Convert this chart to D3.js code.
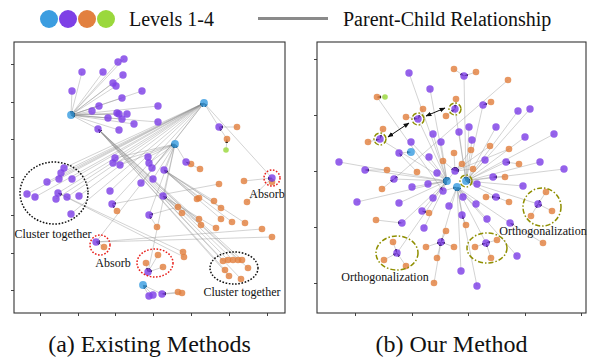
<!DOCTYPE html>
<html><head><meta charset="utf-8">
<script src="https://cdn.jsdelivr.net/npm/d3@7"></script>
<style>body{margin:0;background:#fff}svg{display:block;font-family:"Liberation Serif","Times New Roman",serif}</style>
</head><body><svg id="c" width="591" height="360"></svg>
<script>
// ---------- styling keys ----------
const levelColors = ["#3b9de0", "#7e40e6", "#e2803f", "#9ad83c"];
const levelRadius = [3.9, 3.7, 3.3, 2.8];
const legendLabels = ["Levels 1-4", "Parent-Child Relationship"];
const captions = ["(a) Existing Methods", "(b) Our Method"];

// ---------- axis ticks (embedding units) ----------
const leftXTicks = [26, 64, 101, 139, 177, 215, 253];
const leftYTicks = [23, 60, 98, 136, 174, 211, 249];
const rightXTicks = [38, 95, 151, 208, 264];
const rightYTicks = [30, 86, 142, 198, 254];

// ---------- (a) Existing Methods: nodes [x, y, parentIndex in previous level] ----------
const leftL1 = [[57,198],[190,210],[161,169],[129,28]];
const leftL2 = [
 [68,241,0],[89,241,0],[104,251,0],[110,254,0],[109,238,0],[99,230,0],[102,227,0],[58,222,0],
 [128,222,0],[108,215,0],[85,207,0],[78,202,0],[144,207,0],[103,200,0],[105,199,0],[113,199,0],
 [94,195,0],[108,194,0],[120,189,0],[144,191,0],[105,183,0],[84,184,0],
 [50,145,1],[47,140,1],[45,134,1],[58,134,1],[33,131,1],[13,119,1],[21,116,1],[44,120,1],
 [42,114,1],[53,116,1],[65,117,1],[57,99,1],[96,122,1],[98,109,1],[82,71,1],[127,130,1],
 [205,186,1],[258,135,1],
 [99,150,2],[101,155,2],[106,148,2],[134,156,2],[135,150,2],[138,145,2],[139,134,2],[150,143,2],
 [149,117,2],[172,151,2],[135,98,2],[134,41,2],
 [135,17,3],[139,18,3],[148,19,3]
];
const leftL3 = [
 [209,52,21],[214,53,21],[219,53,21],[224,53,21],[228,53,21],[211,43,21],[234,45,21],[215,37,21],[227,34,21],
 [177,149,49],[186,144,49],[223,186,38],[213,174,38],
 [230,132,39],[258,131,39],[233,111,39],
 [103,102,35],[205,129,35],
 [90,66,36],[248,84,36],[258,76,36],
 [169,61,29],[170,56,29],
 [143,86,50],[164,106,50],
 [168,100,48],[185,94,48],[187,88,48],[202,85,48],
 [183,114,47],[185,115,47],[200,112,47],[207,105,47],[207,94,47],[218,91,47],[231,90,47],
 [144,58,51],[132,50,51],[149,46,51],
 [164,21,54],[168,20,54]
];
const leftL4 = [[212,163,12]];

// ---------- (b) Our Method ----------
const rightL1 = [[130,132],[140,126],[149,132],[94,161]];
const rightL2 = [
 [92,240,0],[113,224,0],[101,194,0],[63,174,0],[116,179,0],[94,171,0],[124,171,0],[112,156,0],
 [22,151,0],[48,143,0],[120,140,0],[77,134,0],[138,142,0],[95,126,0],[111,129,0],[40,111,0],
 [82,110,0],[116,115,0],[105,102,0],[85,90,0],[107,85,0],[80,60,0],
 [126,122,1],[132,107,1],[145,98,1],[124,71,1],[144,42,1],[160,27,1],[169,70,1],[200,57,1],
 [159,109,1],[146,116,1],[170,94,1],[193,90,1],
 [147,237,2],[138,204,2],[166,208,2],[201,202,2],[213,204,2],[152,186,2],[179,186,2],[142,181,2],
 [208,176,2],[237,179,2],[155,173,2],[168,153,2],[189,151,2],[223,151,2],[247,144,2],[176,136,2],
 [160,129,2],[221,109,2],[179,116,2],[206,127,2],
 [82,160,3]
];
const rightL3 = [
 [137,244,34],[159,241,34],[191,233,11],[60,216,22],[139,214,35],[129,197,35],[106,204,2],[89,196,2],
 [66,184,3],[51,171,3],[174,211,36],[137,160,12],[154,163,12],[126,152,12],[145,149,12],[156,144,12],
 [173,167,12],[192,164,12],[202,149,46],[188,136,49],[70,143,9],[100,141,54],[65,124,11],[112,100,18],
 [59,93,19],[149,88,24],[169,116,52],[192,111,52],[214,97,51],[229,121,51],[235,102,51],[226,70,33],
 [129,82,25],[109,66,25],[137,66,25],[120,55,25],[117,30,25],
 [76,71,21],[67,53,21],[89,47,21],
 [158,66,28],[180,73,28],[174,55,28]
];
const rightL4 = [[68,216,3]];

// ---------- annotations ----------
const leftEllipses = [ // [cx, cy, rx, ry, kind]
 [40,120,34,31,"black"],[86,68,10,10,"red"],[141,50,18,14,"red"],[220,45,24,16,"black"],[258,135,8,8,"red"]
];
const leftNotes = [[39,75,"Cluster together"],[99,46,"Absorb"],[253,115,"Absorb"],[228,17,"Cluster together"]];
const rightEllipses = [
 [80,60,21,17,"olive"],[170,65,20,15,"olive"],[225,106,19,19,"olive"],
 [63,174,6,6,"olive"],[101,194,6,6,"olive"],[138,204,6,6,"olive"],[149,132,6,6,"olive"]
];
const rightNotes = [[68,32,"Orthogonalization"],[226,78,"Orthogonalization"]];
const rightArrows = [[71,176,92,190],[109,197,128,205]];

// ---------- drawing ----------
const svg = d3.select("#c");
const defs = svg.append("defs");
defs.append("marker").attr("id","tip").attr("viewBox","0 0 10 10").attr("refX",10).attr("refY",5)
  .attr("markerUnits","userSpaceOnUse").attr("markerWidth",4).attr("markerHeight",4).attr("orient","auto")
  .append("path").attr("d","M0,1.5L10,5L0,8.5z").attr("fill","#111");
defs.append("marker").attr("id","tipA").attr("viewBox","0 0 10 10").attr("refX",9).attr("refY",5)
  .attr("markerUnits","userSpaceOnUse").attr("markerWidth",6).attr("markerHeight",6).attr("orient","auto-start-reverse")
  .append("path").attr("d","M0,1L10,5L0,9z").attr("fill","#111");

const strokeFor = {black:"#111", red:"#e8201c", olive:"#8f8f00"};
const dashFor = {black:"1.6,1.6", red:"1.6,1.6", olive:"5,2,1.5,2"};

function panel(cfg) {
  const x = d3.scaleLinear().domain(cfg.xDomain).range(cfg.xRange);
  const y = d3.scaleLinear().domain(cfg.yDomain).range(cfg.yRange);
  const g = svg.append("g");
  // ticks
  const ax = g.append("g").attr("transform",`translate(0,${cfg.yRange[0]})`)
    .call(d3.axisBottom(x).tickValues(cfg.xTicks).tickSize(3).tickFormat(""));
  const ay = g.append("g").attr("transform",`translate(${cfg.xRange[0]},0)`)
    .call(d3.axisLeft(y).tickValues(cfg.yTicks).tickSize(3).tickFormat(""));
  [ax, ay].forEach(a => { a.select(".domain").remove(); a.selectAll("line").attr("stroke","#444"); });

  const levels = cfg.levels;
  // edges
  const edges = [];
  for (let k = 1; k < levels.length; k++) {
    levels[k].forEach(d => { const p = levels[k-1][d[2]]; edges.push([d[0], d[1], p[0], p[1]]); });
  }
  g.append("g").selectAll("line").data(edges).join("line")
    .attr("x1", d => x(d[0])).attr("y1", d => y(d[1]))
    .attr("x2", d => x(d[2])).attr("y2", d => y(d[3]))
    .attr("stroke","#8c8c8c").attr("stroke-width",0.7).attr("stroke-opacity",0.55)
    .attr("marker-end","url(#tip)");
  // nodes, deepest level first so parents lie above
  for (let k = levels.length - 1; k >= 0; k--) {
    g.append("g").selectAll("circle").data(levels[k]).join("circle")
      .attr("cx", d => x(d[0])).attr("cy", d => y(d[1])).attr("r", levelRadius[k])
      .attr("fill", levelColors[k]).attr("fill-opacity", 0.82);
  }
  // annotations
  g.append("g").selectAll("ellipse").data(cfg.ellipses).join("ellipse")
    .attr("cx", d => x(d[0])).attr("cy", d => y(d[1]))
    .attr("rx", d => x(d[0] + d[2]) - x(d[0])).attr("ry", d => y(d[1]) - y(d[1] + d[3]))
    .attr("fill","none").attr("stroke", d => strokeFor[d[4]]).attr("stroke-width", 1.5)
    .attr("stroke-dasharray", d => dashFor[d[4]]);
  g.append("g").selectAll("line").data(cfg.arrows || []).join("line")
    .attr("x1", d => x(d[0])).attr("y1", d => y(d[1])).attr("x2", d => x(d[2])).attr("y2", d => y(d[3]))
    .attr("stroke","#111").attr("stroke-width",1)
    .attr("marker-start","url(#tipA)").attr("marker-end","url(#tipA)");
  g.append("g").selectAll("text").data(cfg.notes).join("text")
    .attr("x", d => x(d[0])).attr("y", d => y(d[1])).attr("text-anchor","middle")
    .attr("font-size", 12).attr("fill","#111").text(d => d[2]);
  // frame
  g.append("rect").attr("x", cfg.xRange[0]).attr("y", cfg.yRange[1])
    .attr("width", cfg.xRange[1] - cfg.xRange[0]).attr("height", cfg.yRange[0] - cfg.yRange[1])
    .attr("fill","none").attr("stroke","#333").attr("stroke-width",1.1);
  g.append("text").attr("x", (cfg.xRange[0] + cfg.xRange[1]) / 2).attr("y", 352)
    .attr("text-anchor","middle").attr("font-size", 24).attr("fill","#111").text(cfg.caption);
}

panel({xDomain:[0,271], xRange:[14,285], yDomain:[0,271], yRange:[313,42],
  xTicks:leftXTicks, yTicks:leftYTicks, levels:[leftL1,leftL2,leftL3,leftL4],
  ellipses:leftEllipses, notes:leftNotes, caption:captions[0]});
panel({xDomain:[0,269], xRange:[317,586], yDomain:[0,271], yRange:[313,42],
  xTicks:rightXTicks, yTicks:rightYTicks, levels:[rightL1,rightL2,rightL3,rightL4],
  ellipses:rightEllipses, notes:rightNotes, arrows:rightArrows, caption:captions[1]});

// legend
const lg = svg.append("g");
lg.selectAll("circle").data(levelColors).join("circle")
  .attr("cx", (d,i) => 49 + i * 19).attr("cy", 19).attr("r", 9).attr("fill", d => d);
lg.append("text").attr("x", 129).attr("y", 26).attr("font-size", 20).attr("fill","#111").text(legendLabels[0]);
lg.append("line").attr("x1", 258).attr("x2", 328).attr("y1", 18.5).attr("y2", 18.5)
  .attr("stroke","#8a8a8a").attr("stroke-width", 3);
lg.append("text").attr("x", 343).attr("y", 26).attr("font-size", 20).attr("fill","#111").text(legendLabels[1]);
</script></body></html>
